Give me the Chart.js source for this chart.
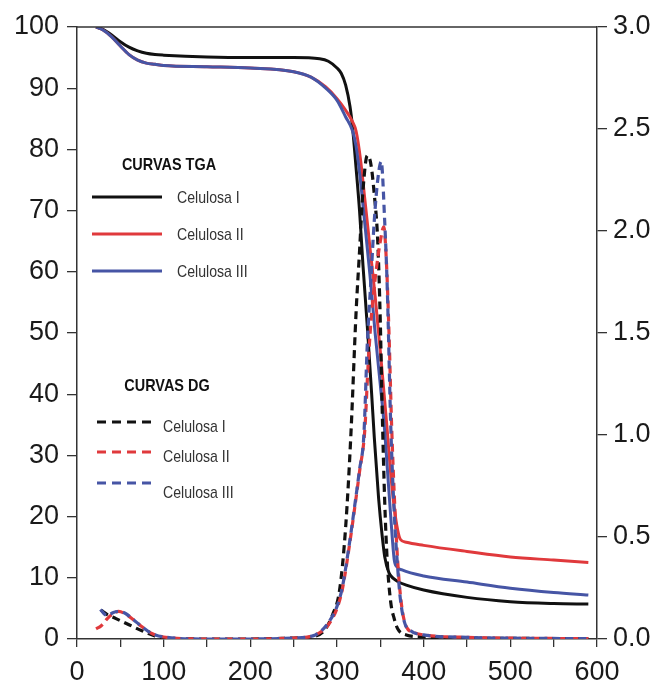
<!DOCTYPE html>
<html>
<head>
<meta charset="utf-8">
<script src="https://cdn.jsdelivr.net/npm/chart.js@4.4.0/dist/chart.umd.min.js"></script>
<style>
  html, body { margin: 0; padding: 0; background: #fff; }
  #wrap { width: 657px; height: 682px; }
</style>
</head>
<body>
<div id="wrap"><canvas id="tgaChart" width="657" height="682"></canvas></div>
<script>
// TGA curves (left axis, % mass)
const tgaIT = [22, 30, 40, 50, 60, 70, 80, 90, 100, 150, 200, 250, 280, 290, 300, 305, 310, 315, 318, 322, 326, 330, 335, 340, 343, 348, 352, 355, 360, 365, 370, 380, 400, 450, 500, 550, 590];
const tgaIY = [100, 99.6, 98.7, 97.6, 96.7, 96.1, 95.7, 95.5, 95.4, 95.1, 95.0, 95.0, 94.8, 94.4, 93.3, 92.4, 90.5, 87, 83.5, 77, 70, 61, 51, 40, 33, 23, 17, 13.5, 10.8, 9.9, 9.4, 8.8, 8.0, 6.8, 6.1, 5.8, 5.7];

const tgaIIT = [22, 30, 40, 50, 60, 70, 80, 90, 100, 150, 200, 250, 270, 287, 300, 310, 318, 322, 327, 332, 338, 344, 350, 355, 358, 362, 366, 370, 373, 380, 400, 450, 500, 550, 590];
const tgaIIY = [100, 99.5, 98.4, 96.9, 95.5, 94.6, 94.1, 93.9, 93.7, 93.5, 93.3, 92.7, 91.8, 90.2, 88.3, 86.4, 84.5, 83, 78.5, 72, 64, 56, 47, 39, 34, 27, 21.5, 17.8, 16.3, 15.8, 15.3, 14.3, 13.4, 12.9, 12.5];

const tgaIIIT = [22, 30, 40, 50, 60, 70, 80, 90, 100, 150, 200, 250, 270, 287, 300, 310, 318, 322, 327, 332, 338, 344, 350, 355, 358, 362, 366, 369, 375, 400, 450, 500, 550, 590];
const tgaIIIY = [100, 99.5, 98.4, 96.9, 95.5, 94.6, 94.1, 93.9, 93.7, 93.5, 93.3, 92.7, 91.8, 90.0, 88.0, 85.3, 83, 80.5, 75, 68, 59.5, 50, 41.5, 34, 28, 20, 13, 11.8, 11.3, 10.3, 9.3, 8.3, 7.6, 7.2];

// DG curves (right axis)
const dgIT = [28, 35, 45, 60, 75, 90, 100, 150, 200, 250, 270, 285, 295, 303, 310, 316, 322, 326, 330, 335, 339, 343, 347, 350, 352, 355, 358, 362, 366, 370, 380, 400, 450, 500, 590];
const dgIY = [0.14, 0.12, 0.10, 0.07, 0.04, 0.015, 0.005, 0, 0, 0.005, 0.01, 0.04, 0.12, 0.24, 0.55, 1.0, 1.6, 1.9, 2.2, 2.37, 2.33, 2.18, 1.95, 1.55, 1.15, 0.68, 0.38, 0.18, 0.1, 0.05, 0.02, 0.01, 0.005, 0.003, 0.002];

const dgIIT = [22, 28, 35, 42, 48, 55, 65, 75, 85, 100, 150, 200, 250, 275, 290, 300, 306, 313, 320, 326, 332, 336, 340, 345, 350, 354, 357, 360, 363, 367, 371, 375, 380, 390, 400, 450, 500, 590];
const dgIIY = [0.05, 0.065, 0.1, 0.125, 0.135, 0.125, 0.095, 0.06, 0.03, 0.01, 0, 0, 0.005, 0.02, 0.07, 0.15, 0.24, 0.42, 0.63, 0.82, 1.02, 1.35, 1.6, 1.8, 1.95, 2.02, 1.85, 1.5, 1.05, 0.62, 0.32, 0.15, 0.06, 0.03, 0.02, 0.008, 0.004, 0.002];

const dgIIIT = [27, 31, 35, 42, 49, 56, 65, 75, 85, 100, 150, 200, 250, 275, 290, 300, 306, 313, 320, 326, 331, 335, 339, 343, 347, 351, 355, 358, 362, 366, 370, 373, 378, 385, 400, 450, 500, 590];
const dgIIIY = [0.145, 0.125, 0.115, 0.13, 0.135, 0.125, 0.095, 0.06, 0.03, 0.01, 0, 0, 0.005, 0.02, 0.08, 0.16, 0.25, 0.43, 0.64, 0.83, 1.0, 1.45, 1.75, 2.05, 2.25, 2.34, 2.05, 1.72, 1.05, 0.62, 0.35, 0.2, 0.08, 0.04, 0.02, 0.008, 0.004, 0.002];

const seriesNames = ["Celulosa I", "Celulosa II", "Celulosa III"];
const seriesColors = ["#111111", "#e0393c", "#4655a5"];
const axisColor = "#333";
const tickFont = { family: "'Liberation Sans', Arial, sans-serif", size: 27 };

function toPoints(xs, ys) {
    return xs.map((x, i) => ({ x: x, y: ys[i] }));
}

function lineSet(label, xs, ys, color, axis, dashed) {
    return {
        label: label,
        data: toPoints(xs, ys),
        borderColor: color,
        borderWidth: dashed ? 3.2 : 3,
        borderDash: dashed ? [8, 5] : [],
        pointRadius: 0,
        fill: false,
        cubicInterpolationMode: 'monotone',
        yAxisID: axis
    };
}

// squeezed text, the legend uses a narrow face
function narrowText(ctx, text, x, y, align, sx) {
    ctx.save();
    ctx.translate(x, y);
    ctx.scale(sx, 1);
    ctx.textAlign = align;
    ctx.fillText(text, 0, 0);
    ctx.restore();
}

// legend drawn inside the plot, plus the top frame line
const overlayPlugin = {
    id: 'overlay',
    afterDraw(chart) {
        const ctx = chart.ctx;
        const a = chart.chartArea;
        ctx.save();
        ctx.strokeStyle = axisColor;
        ctx.lineWidth = 1.5;
        ctx.beginPath();
        ctx.moveTo(a.left, a.top);
        ctx.lineTo(a.right, a.top);
        ctx.stroke();

        const face = "'Liberation Sans', Arial, sans-serif";
        ctx.textBaseline = 'middle';

        // TGA group
        ctx.fillStyle = '#111';
        ctx.font = "bold 17px " + face;
        narrowText(ctx, "CURVAS TGA", 169, 165, 'center', 0.85);
        ctx.font = "17px " + face;
        const tgaRows = [197, 234, 271];
        tgaRows.forEach((y, i) => {
            ctx.strokeStyle = seriesColors[i];
            ctx.lineWidth = 3;
            ctx.setLineDash([]);
            ctx.beginPath();
            ctx.moveTo(92, y);
            ctx.lineTo(162, y);
            ctx.stroke();
            ctx.fillStyle = '#333';
            narrowText(ctx, seriesNames[i], 177, y + 1, 'left', 0.83);
        });

        // DG group
        ctx.fillStyle = '#111';
        ctx.font = "bold 17px " + face;
        narrowText(ctx, "CURVAS DG", 167, 386, 'center', 0.85);
        ctx.font = "17px " + face;
        const dgRows = [422, 452, 483];
        const dgText = [427, 457, 493];
        dgRows.forEach((y, i) => {
            ctx.strokeStyle = seriesColors[i];
            ctx.lineWidth = 3;
            ctx.setLineDash([9, 6]);
            ctx.beginPath();
            ctx.moveTo(97, y);
            ctx.lineTo(155, y);
            ctx.stroke();
            ctx.fillStyle = '#333';
            narrowText(ctx, seriesNames[i], 163, dgText[i], 'left', 0.83);
        });
        ctx.restore();
    }
};

const ctx = document.getElementById('tgaChart').getContext('2d');

new Chart(ctx, {
    type: 'line',
    data: {
        datasets: [
            lineSet("Celulosa III DG", dgIIIT, dgIIIY, seriesColors[2], 'y2', true),
            lineSet("Celulosa II DG", dgIIT, dgIIY, seriesColors[1], 'y2', true),
            lineSet("Celulosa I DG", dgIT, dgIY, seriesColors[0], 'y2', true),
            lineSet("Celulosa III TGA", tgaIIIT, tgaIIIY, seriesColors[2], 'y', false),
            lineSet("Celulosa II TGA", tgaIIT, tgaIIY, seriesColors[1], 'y', false),
            lineSet("Celulosa I TGA", tgaIT, tgaIY, seriesColors[0], 'y', false)
        ]
    },
    options: {
        responsive: false,
        devicePixelRatio: 1,
        animation: false,
        layout: { padding: { top: 27, left: 0, right: 0, bottom: 0 } },
        plugins: {
            legend: { display: false },
            tooltip: { enabled: false }
        },
        scales: {
            x: {
                type: 'linear',
                position: 'bottom',
                min: 0,
                max: 600,
                afterFit: scale => { scale.height = 43; },
                border: { display: true, color: axisColor, width: 1.5 },
                grid: { drawOnChartArea: false, drawTicks: true, tickLength: 8, color: axisColor, lineWidth: 1.3 },
                ticks: {
                    stepSize: 50,
                    autoSkip: false,
                    maxRotation: 0,
                    padding: 9,
                    color: '#1a1a1a',
                    font: tickFont,
                    callback: v => (v % 100 === 0 ? v : '')
                }
            },
            y: {
                position: 'left',
                min: 0,
                max: 100,
                afterFit: scale => { scale.width = 77; },
                border: { display: true, color: axisColor, width: 1.5 },
                grid: { drawOnChartArea: false, drawTicks: true, tickLength: 10, color: axisColor, lineWidth: 1.3 },
                ticks: { stepSize: 10, padding: 8, color: '#1a1a1a', font: tickFont }
            },
            y2: {
                position: 'right',
                min: 0,
                max: 3,
                afterFit: scale => { scale.width = 60; },
                border: { display: true, color: axisColor, width: 1.5 },
                grid: { drawOnChartArea: false, drawTicks: true, tickLength: 10, color: axisColor, lineWidth: 1.3 },
                ticks: { stepSize: 0.5, padding: 6, color: '#1a1a1a', font: tickFont, callback: v => v.toFixed(1) }
            }
        }
    },
    plugins: [overlayPlugin]
});
</script>
</body>
</html>
